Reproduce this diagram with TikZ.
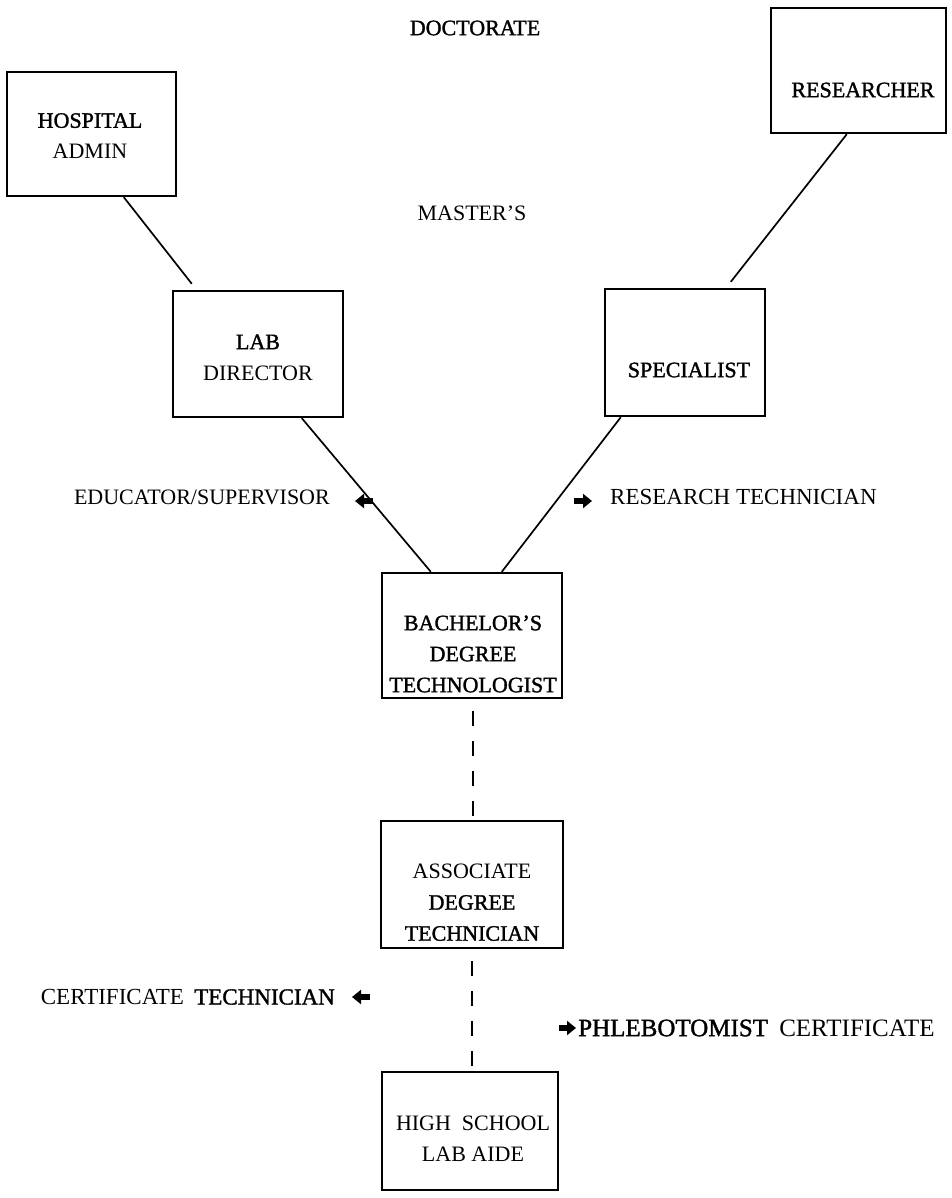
\documentclass[tikz,border=0pt]{standalone}
\usepackage{fontspec}
\setmainfont{Liberation Serif}
\newfontfamily\hv[FakeBold=1.4]{Liberation Serif}
\usetikzlibrary{arrows.meta,calc}
\begin{document}
\begin{tikzpicture}[x=1pt,y=-1pt,
  box/.style={draw,line width=2.4pt,rectangle,inner sep=0pt},
  txt/.style={font=\fontsize{22}{31}\selectfont,inner sep=0pt,align=center},
  link/.style={line width=1.7pt},
  dashlink/.style={line width=1.9pt,dash pattern=on 15pt off 15pt,dash phase=18pt},
  glyph/.style={line width=5.5pt,-{Triangle[length=9pt,width=14pt]}}]
\useasboundingbox (0,0) rectangle (951,1198);
\fill[white] (0,0) rectangle (951,1198);

% level labels
\node[txt] (doc) at (475,28) {{\hv DOCTORATE}};
\node[txt] (mas) at (472,213) {MASTER’S};

% boxes
\node[box,minimum width=169pt,minimum height=124pt] (hosp) at (91.5,134) {};
\node[txt] (hospT) at (90,136) {{\hv HOSPITAL}\\ADMIN};
\node[box,minimum width=175pt,minimum height=125pt] (res) at (858.5,70.5) {};
\node[txt] (resT) at (863,90) {{\hv RESEARCHER}};
\node[box,minimum width=170pt,minimum height=126pt] (lab) at (258,354) {};
\node[txt] (labT) at (258,357.5) {{\hv LAB}\\DIRECTOR};
\node[box,minimum width=160pt,minimum height=127pt] (spec) at (685,352.5) {};
\node[txt] (specT) at (689,370) {{\hv SPECIALIST}};
\node[box,minimum width=180pt,minimum height=125pt] (bach) at (472,635.5) {};
\node[txt] (bachT) at (473,654) {{\hv BACHELOR’S}\\{\hv DEGREE}\\{\hv TECHNOLOGIST}};
\node[box,minimum width=182pt,minimum height=127pt] (assoc) at (472,884.5) {};
\node[txt] (assocT) at (472,902.5) {ASSOCIATE\\{\hv DEGREE}\\{\hv TECHNICIAN}};
\node[box,minimum width=176pt,minimum height=118pt] (hs) at (470,1131) {};
\node[txt] (hsT) at (473,1139) {HIGH\hspace{0.5em}SCHOOL\\LAB AIDE};

% side labels
\node[txt,anchor=east] (edu) at (330,497) {EDUCATOR/SUPERVISOR};
\node[txt,anchor=west,font=\fontsize{23}{31}\selectfont] (rtech) at (610,497) {RESEARCH TECHNICIAN};
\node[txt,anchor=east,font=\fontsize{23}{31}\selectfont] (ctech) at (335,997) {CERTIFICATE\hspace{0.45em}{\hv TECHNICIAN}};
\node[txt,anchor=west,font=\fontsize{25}{31}\selectfont] (phleb) at (578,1028) {{\hv PHLEBOTOMIST}\hspace{0.45em}CERTIFICATE};

% connectors
\draw[link] ([xshift=118pt]hosp.south west) -- ([xshift=20pt,yshift=6pt]lab.north west);
\draw[link] ([xshift=77pt]res.south west) -- ([xshift=127pt,yshift=6pt]spec.north west);
\draw[link] ([xshift=130pt]lab.south west) -- ([xshift=50pt]bach.north west);
\draw[link] ([xshift=17pt]spec.south west) -- ([xshift=121pt]bach.north west);
\draw[dashlink] ([xshift=1pt]bach.south) -- ([xshift=1pt]assoc.north);
\draw[dashlink] (assoc.south) -- ([xshift=2pt]hs.north);

% arrow glyphs
\draw[glyph] ([xshift=43pt,yshift=-4pt]edu.east) -- ([xshift=25pt,yshift=-4pt]edu.east);
\draw[glyph] ([xshift=-36pt,yshift=-4pt]rtech.west) -- ([xshift=-18pt,yshift=-4pt]rtech.west);
\draw[glyph] ([xshift=35pt]ctech.east) -- ([xshift=17pt]ctech.east);
\draw[glyph] ([xshift=-19pt]phleb.west) -- ([xshift=-2pt]phleb.west);
\end{tikzpicture}
\end{document}
